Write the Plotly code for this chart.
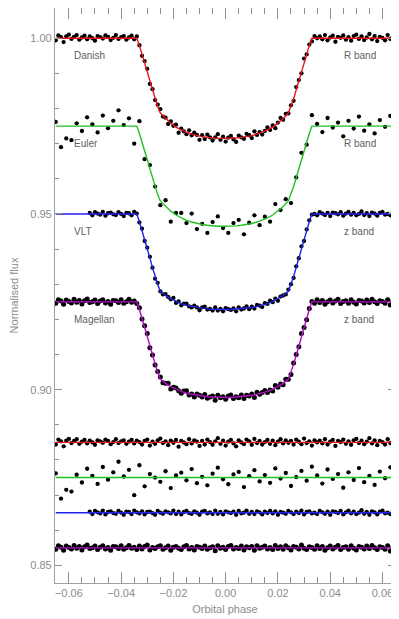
import plotly.graph_objects as go

# orbital phase of each exposure
phase_fine = [
    -0.065, -0.064, -0.063, -0.062, -0.061, -0.060, -0.059, -0.058, -0.057, -0.056,
    -0.055, -0.054, -0.053, -0.052, -0.051, -0.050, -0.049, -0.048, -0.047, -0.046,
    -0.045, -0.044, -0.043, -0.042, -0.041, -0.040, -0.039, -0.038, -0.037, -0.036,
    -0.035, -0.034, -0.033, -0.032, -0.031, -0.030, -0.029, -0.028, -0.027, -0.026,
    -0.025, -0.024, -0.023, -0.022, -0.021, -0.020, -0.019, -0.018, -0.017, -0.016,
    -0.015, -0.014, -0.013, -0.012, -0.011, -0.010, -0.009, -0.008, -0.007, -0.006,
    -0.005, -0.004, -0.003, -0.002, -0.001, 0.000, 0.001, 0.002, 0.003, 0.004,
    0.005, 0.006, 0.007, 0.008, 0.009, 0.010, 0.011, 0.012, 0.013, 0.014,
    0.015, 0.016, 0.017, 0.018, 0.019, 0.020, 0.021, 0.022, 0.023, 0.024,
    0.025, 0.026, 0.027, 0.028, 0.029, 0.030, 0.031, 0.032, 0.033, 0.034,
    0.035, 0.036, 0.037, 0.038, 0.039, 0.040, 0.041, 0.042, 0.043, 0.044,
    0.045, 0.046, 0.047, 0.048, 0.049, 0.050, 0.051, 0.052, 0.053, 0.054,
    0.055, 0.056, 0.057, 0.058, 0.059, 0.060, 0.061, 0.062, 0.063, 0.064,
    0.065,
]
phase_euler = [
    -0.065, -0.063, -0.061, -0.059, -0.057, -0.055, -0.053, -0.051, -0.049, -0.047,
    -0.045, -0.043, -0.041, -0.039, -0.037, -0.035, -0.033, -0.031, -0.029, -0.027,
    -0.025, -0.023, -0.021, -0.019, -0.017, -0.015, -0.013, -0.011, -0.009, -0.007,
    -0.005, -0.003, -0.001, 0.001, 0.003, 0.005, 0.007, 0.009, 0.011, 0.013,
    0.015, 0.017, 0.019, 0.021, 0.023, 0.025, 0.027, 0.029, 0.031, 0.033,
    0.035, 0.037, 0.039, 0.041, 0.043, 0.045, 0.047, 0.049, 0.051, 0.053,
    0.055, 0.057, 0.059, 0.061, 0.063, 0.065,
]
phase_vlt = [
    -0.052, -0.051, -0.050, -0.049, -0.048, -0.047, -0.046, -0.045, -0.044, -0.043,
    -0.042, -0.041, -0.040, -0.039, -0.038, -0.037, -0.036, -0.035, -0.034, -0.033,
    -0.032, -0.031, -0.030, -0.029, -0.028, -0.027, -0.026, -0.025, -0.024, -0.023,
    -0.022, -0.021, -0.020, -0.019, -0.018, -0.017, -0.016, -0.015, -0.014, -0.013,
    -0.012, -0.011, -0.010, -0.009, -0.008, -0.007, -0.006, -0.005, -0.004, -0.003,
    -0.002, -0.001, 0.000, 0.001, 0.002, 0.003, 0.004, 0.005, 0.006, 0.007,
    0.008, 0.009, 0.010, 0.011, 0.012, 0.013, 0.014, 0.015, 0.016, 0.017,
    0.018, 0.019, 0.020, 0.021, 0.022, 0.023, 0.024, 0.025, 0.026, 0.027,
    0.028, 0.029, 0.030, 0.031, 0.032, 0.033, 0.034, 0.035, 0.036, 0.037,
    0.038, 0.039, 0.040, 0.041, 0.042, 0.043, 0.044, 0.045, 0.046, 0.047,
    0.048, 0.049, 0.050, 0.051, 0.052, 0.053, 0.054, 0.055, 0.056, 0.057,
    0.058, 0.059, 0.060, 0.061, 0.062, 0.063, 0.064, 0.065,
]

# normalised flux
danish_flux = [
    0.9994, 1.0008, 1.0003, 0.9989, 1.0005, 1.0010, 0.9998, 1.0004, 1.0009, 0.9996,
    1.0002, 1.0007, 0.9997, 1.0005, 1.0000, 0.9993, 1.0006, 1.0003, 0.9999, 1.0008,
    1.0004, 0.9995, 1.0001, 1.0009, 0.9998, 1.0003, 1.0006, 0.9996, 1.0002, 1.0007,
    0.9997, 1.0005, 0.9980, 0.9950, 0.9935, 0.9913, 0.9870, 0.9855, 0.9824, 0.9811,
    0.9798, 0.9777, 0.9774, 0.9756, 0.9763, 0.9751, 0.9754, 0.9731, 0.9743, 0.9735,
    0.9727, 0.9738, 0.9724, 0.9731, 0.9725, 0.9711, 0.9724, 0.9713, 0.9726, 0.9718,
    0.9709, 0.9718, 0.9727, 0.9711, 0.9720, 0.9706, 0.9717, 0.9722, 0.9712, 0.9705,
    0.9723, 0.9718, 0.9714, 0.9728, 0.9724, 0.9716, 0.9735, 0.9725, 0.9733, 0.9726,
    0.9736, 0.9746, 0.9739, 0.9752, 0.9744, 0.9760, 0.9773, 0.9768, 0.9785, 0.9786,
    0.9809, 0.9822, 0.9861, 0.9881, 0.9900, 0.9942, 0.9954, 0.9982, 0.9991, 1.0006,
    1.0000, 1.0005, 0.9997, 1.0009, 0.9994, 1.0002, 1.0007, 0.9990, 1.0004, 1.0001,
    1.0008, 0.9996, 1.0003, 0.9993, 1.0006, 1.0010, 0.9998, 1.0005, 0.9995, 1.0002,
    1.0012, 0.9997, 1.0006, 0.9992, 1.0004, 1.0001, 0.9994, 1.0009, 0.9998, 1.0003,
    1.0005,
]
euler_flux = [
    1.0012, 0.9940, 0.9965, 0.9960, 1.0008, 0.9986, 1.0025, 1.0005, 0.9982, 1.0030,
    0.9994, 1.0015, 1.0045, 1.0003, 1.0022, 0.9950, 1.0014, 0.9906, 0.9889, 0.9828,
    0.9775, 0.9789, 0.9728, 0.9753, 0.9753, 0.9724, 0.9751, 0.9707, 0.9722, 0.9696,
    0.9727, 0.9743, 0.9710, 0.9696, 0.9724, 0.9733, 0.9692, 0.9725, 0.9746, 0.9718,
    0.9742, 0.9728, 0.9778, 0.9761, 0.9792, 0.9781, 0.9854, 0.9924, 0.9947, 1.0031,
    1.0006, 0.9983, 1.0023, 0.9996, 1.0010, 0.9971, 1.0015, 0.9993, 1.0027, 0.9987,
    1.0005, 0.9979, 1.0017, 0.9998, 1.0029, 0.9990,
]
vlt_flux = [
    1.0003, 0.9996, 1.0005, 1.0001, 0.9998, 1.0006, 0.9995, 1.0002, 1.0004, 0.9999,
    0.9997, 1.0005, 1.0000, 0.9994, 1.0003, 1.0002, 0.9996, 1.0006, 1.0001, 0.9976,
    0.9958, 0.9923, 0.9904, 0.9878, 0.9847, 0.9816, 0.9804, 0.9780, 0.9771, 0.9772,
    0.9764, 0.9757, 0.9761, 0.9747, 0.9751, 0.9740, 0.9745, 0.9745, 0.9737, 0.9734,
    0.9739, 0.9734, 0.9726, 0.9734, 0.9736, 0.9728, 0.9730, 0.9725, 0.9734, 0.9725,
    0.9730, 0.9723, 0.9732, 0.9729, 0.9727, 0.9731, 0.9723, 0.9734, 0.9728, 0.9731,
    0.9737, 0.9729, 0.9736, 0.9731, 0.9741, 0.9739, 0.9735, 0.9746, 0.9744, 0.9753,
    0.9749, 0.9759, 0.9753, 0.9765, 0.9768, 0.9771, 0.9785, 0.9800, 0.9818, 0.9851,
    0.9874, 0.9908, 0.9923, 0.9956, 0.9982, 0.9998, 1.0000, 0.9996, 1.0005, 1.0001,
    0.9997, 1.0003, 0.9994, 1.0004, 1.0002, 0.9999, 1.0005, 0.9995, 1.0001, 1.0006,
    0.9998, 1.0003, 0.9996, 1.0000, 1.0007, 0.9997, 1.0002, 0.9994, 1.0004, 1.0001,
    0.9995, 1.0003, 1.0006, 0.9998, 1.0000, 0.9996, 1.0005, 1.0002,
]
magellan_flux = [
    0.9996, 1.0006, 1.0002, 0.9993, 1.0005, 1.0001, 0.9997, 1.0007, 0.9999, 1.0004,
    0.9994, 1.0003, 1.0008, 0.9998, 1.0000, 1.0005, 0.9995, 1.0002, 1.0006, 0.9997,
    1.0001, 0.9993, 1.0004, 1.0003, 0.9998, 1.0006, 0.9996, 1.0000, 1.0007, 0.9999,
    1.0002, 0.9995, 0.9983, 0.9951, 0.9932, 0.9910, 0.9869, 0.9849, 0.9820, 0.9802,
    0.9786, 0.9770, 0.9768, 0.9768, 0.9752, 0.9757, 0.9755, 0.9747, 0.9740, 0.9746,
    0.9747, 0.9735, 0.9738, 0.9729, 0.9738, 0.9734, 0.9729, 0.9736, 0.9726, 0.9729,
    0.9732, 0.9720, 0.9734, 0.9727, 0.9730, 0.9723, 0.9732, 0.9735, 0.9725, 0.9730,
    0.9727, 0.9735, 0.9725, 0.9734, 0.9732, 0.9738, 0.9728, 0.9743, 0.9737, 0.9742,
    0.9748, 0.9742, 0.9749, 0.9746, 0.9762, 0.9757, 0.9766, 0.9764, 0.9780, 0.9780,
    0.9793, 0.9826, 0.9850, 0.9872, 0.9910, 0.9927, 0.9949, 0.9981, 1.0001, 0.9996,
    1.0006, 0.9998, 1.0004, 0.9993, 1.0000, 1.0005, 0.9997, 1.0002, 1.0007, 0.9995,
    1.0001, 1.0003, 0.9996, 1.0006, 0.9999, 0.9994, 1.0004, 1.0002, 0.9997, 1.0005,
    0.9998, 1.0007, 1.0000, 0.9995, 1.0003, 1.0001, 0.9996, 1.0006, 0.9991, 1.0002,
    1.0004,
]

# residuals from the fit, parts per thousand
danish_resid = [
    -0.6, 0.8, 0.3, -1.1, 0.5, 1.0, -0.2, 0.4, 0.9, -0.4,
    0.2, 0.7, -0.3, 0.5, 0.0, -0.7, 0.6, 0.3, -0.1, 0.8,
    0.4, -0.5, 0.1, 0.9, -0.2, 0.3, 0.6, -0.4, 0.2, 0.7,
    -0.3, 0.5, 0.1, -0.6, 0.4, 0.8, -0.9, 0.2, -0.4, 0.6,
    1.1, -0.2, 0.3, -0.8, 0.5, -0.1, 0.7, -1.2, 0.4, 0.0,
    -0.5, 0.9, -0.3, 0.6, 0.2, -1.0, 0.4, -0.6, 0.8, 0.1,
    -0.7, 0.3, 1.2, -0.4, 0.5, -0.9, 0.2, 0.7, -0.3, -1.1,
    0.6, 0.0, -0.5, 0.8, 0.3, -0.7, 1.0, -0.2, 0.4, -0.6,
    0.1, 0.7, -0.4, 0.5, -0.8, 0.2, 0.9, -0.3, 0.6, -0.1,
    0.4, -0.6, 0.8, 0.2, -0.5, 1.1, -0.2, 0.3, -0.9, 0.6,
    0.0, 0.5, -0.3, 0.9, -0.6, 0.2, 0.7, -1.0, 0.4, 0.1,
    0.8, -0.4, 0.3, -0.7, 0.6, 1.0, -0.2, 0.5, -0.5, 0.2,
    1.2, -0.3, 0.6, -0.8, 0.4, 0.1, -0.6, 0.9, -0.2, 0.3,
    0.5,
]
euler_resid = [
    1.2, -6.0, -3.5, -4.0, 0.8, -1.4, 2.5, 0.5, -1.8, 3.0,
    -0.6, 1.5, 4.5, 0.3, 2.2, -5.0, 3.5, -2.5, 1.0, 0.0,
    -1.2, 1.8, -3.0, 0.6, 1.4, -0.8, 2.4, -1.6, 0.2, -2.2,
    1.1, 2.8, -0.5, -1.9, 0.9, 1.6, -2.7, 0.4, 2.1, -1.1,
    0.7, -1.5, 2.6, -0.3, 1.3, -2.4, 0.1, 1.9, -0.9, 3.1,
    0.6, -1.7, 2.3, -0.4, 1.0, -2.9, 1.5, -0.7, 2.7, -1.3,
    0.5, -2.1, 1.7, -0.2, 2.9, -1.0,
]
vlt_resid = [
    0.3, -0.4, 0.5, 0.1, -0.2, 0.6, -0.5, 0.2, 0.4, -0.1,
    -0.3, 0.5, 0.0, -0.6, 0.3, 0.2, -0.4, 0.6, 0.1, -0.2,
    0.4, -0.5, 0.2, 0.3, -0.1, -0.6, 0.5, 0.0, -0.3, 0.4,
    0.1, -0.2, 0.6, -0.4, 0.3, -0.5, 0.2, 0.5, -0.1, -0.3,
    0.4, 0.0, -0.6, 0.3, 0.5, -0.2, 0.1, -0.4, 0.6, -0.3,
    0.2, -0.5, 0.4, 0.1, -0.1, 0.3, -0.6, 0.5, -0.2, 0.0,
    0.6, -0.3, 0.2, -0.4, 0.4, 0.1, -0.5, 0.3, -0.1, 0.5,
    -0.2, 0.4, -0.6, 0.2, 0.0, -0.3, 0.5, 0.1, -0.4, 0.3,
    -0.1, 0.6, -0.5, 0.2, 0.4, -0.2, 0.0, -0.4, 0.5, 0.1,
    -0.3, 0.3, -0.6, 0.4, 0.2, -0.1, 0.5, -0.5, 0.1, 0.6,
    -0.2, 0.3, -0.4, 0.0, 0.7, -0.3, 0.2, -0.6, 0.4, 0.1,
    -0.5, 0.3, 0.6, -0.2, 0.0, -0.4, 0.5, 0.2,
]
magellan_resid = [
    -0.4, 0.6, 0.2, -0.7, 0.5, 0.1, -0.3, 0.7, -0.1, 0.4,
    -0.6, 0.3, 0.8, -0.2, 0.0, 0.5, -0.5, 0.2, 0.6, -0.3,
    0.1, -0.7, 0.4, 0.3, -0.2, 0.6, -0.4, 0.0, 0.7, -0.1,
    0.2, -0.5, 0.5, -0.3, 0.4, 0.8, -0.6, 0.1, -0.2, 0.3,
    0.6, -0.4, 0.0, 0.5, -0.7, 0.2, 0.4, -0.1, -0.5, 0.3,
    0.7, -0.3, 0.1, -0.6, 0.4, 0.2, -0.2, 0.5, -0.4, 0.0,
    0.3, -0.8, 0.6, -0.1, 0.2, -0.5, 0.4, 0.7, -0.3, 0.1,
    -0.2, 0.5, -0.6, 0.3, 0.0, 0.4, -0.7, 0.6, -0.1, 0.2,
    0.5, -0.3, 0.1, -0.5, 0.7, -0.2, 0.3, -0.4, 0.6, 0.0,
    -0.6, 0.4, 0.2, -0.3, 0.8, -0.1, -0.5, 0.3, 0.1, -0.4,
    0.6, -0.2, 0.4, -0.7, 0.0, 0.5, -0.3, 0.2, 0.7, -0.5,
    0.1, 0.3, -0.4, 0.6, -0.1, -0.6, 0.4, 0.2, -0.3, 0.5,
    -0.2, 0.7, 0.0, -0.5, 0.3, 0.1, -0.4, 0.6, -0.9, 0.2,
    0.4,
]

# best-fitting light curve models
model_phase = [
    -0.065, -0.034, -0.033, -0.032, -0.031, -0.030, -0.029, -0.028, -0.027, -0.026,
    -0.025, -0.023, -0.021, -0.019, -0.017, -0.015, -0.013, -0.011, -0.009, -0.007,
    -0.005, -0.003, -0.0005, 0.002, 0.004, 0.006, 0.008, 0.010, 0.012, 0.014,
    0.016, 0.018, 0.020, 0.022, 0.024, 0.025, 0.026, 0.027, 0.028, 0.029,
    0.030, 0.031, 0.032, 0.033, 0.065,
]
model_R = [
    1.0, 1.0, 0.9979, 0.9956, 0.9931, 0.9905, 0.9879, 0.9853, 0.9828, 0.9805,
    0.9787, 0.9771, 0.9758, 0.9747, 0.9739, 0.9732, 0.9727, 0.9723, 0.9720, 0.9718,
    0.9716, 0.9715, 0.9715, 0.9715, 0.9716, 0.9718, 0.9720, 0.9723, 0.9727, 0.9732,
    0.9739, 0.9747, 0.9758, 0.9771, 0.9787, 0.9805, 0.9828, 0.9853, 0.9879, 0.9905,
    0.9931, 0.9956, 0.9979, 1.0, 1.0,
]
model_z = [
    1.0, 1.0, 0.9978, 0.9954, 0.9928, 0.9902, 0.9875, 0.9848, 0.9822, 0.9799,
    0.9780, 0.9768, 0.9759, 0.9751, 0.9745, 0.9740, 0.9737, 0.9734, 0.9731, 0.9730,
    0.9729, 0.9728, 0.9728, 0.9728, 0.9729, 0.9730, 0.9731, 0.9734, 0.9737, 0.9740,
    0.9745, 0.9751, 0.9759, 0.9768, 0.9780, 0.9799, 0.9822, 0.9848, 0.9875, 0.9902,
    0.9928, 0.9954, 0.9978, 1.0, 1.0,
]

telescopes = ["Danish", "Euler", "VLT", "Magellan"]
bands = ["R band", "R band", "z band", "z band"]

grey = "#8c8c8c"
# (phase, flux, residuals, model, colour, display offset, residual level, dot size)
sets = [
    (phase_fine, danish_flux, danish_resid, model_R, "#e8141c", 0.0, 0.885, 4.3),
    (phase_euler, euler_flux, euler_resid, model_R, "#22c022", -0.025, 0.875, 4.3),
    (phase_vlt, vlt_flux, vlt_resid, model_z, "#2222ee", -0.05, 0.865, 4.3),
    (phase_fine, magellan_flux, magellan_resid, model_z, "#b40cc8", -0.075, 0.855, 5),
]

fig = go.Figure()

for ph, fl, res, model, col, off, rlev, sz in sets:
    fig.add_trace(go.Scatter(x=ph, y=[f + off for f in fl], mode="markers",
                             marker=dict(color="black", size=sz)))
    fig.add_trace(go.Scatter(x=ph, y=[rlev + r / 1000 for r in res], mode="markers",
                             marker=dict(color="black", size=sz)))

for ph, fl, res, model, col, off, rlev, sz in sets:
    fig.add_trace(go.Scatter(x=model_phase, y=[m + off for m in model], mode="lines",
                             line=dict(color=col, width=1.4)))
    fig.add_trace(go.Scatter(x=[model_phase[0], model_phase[-1]], y=[rlev, rlev],
                             mode="lines", line=dict(color=col, width=1.4)))

for name, band, s in zip(telescopes, bands, sets):
    off = s[5]
    fig.add_annotation(x=-0.0588, y=0.995 + off, text=name, showarrow=False,
                       xanchor="left", font=dict(size=10, color="#606060"))
    fig.add_annotation(x=0.0445, y=0.995 + off, text=band, showarrow=False,
                       xanchor="left", font=dict(size=10, color="#606060"))

axis_common = dict(showgrid=False, zeroline=False, showline=True, linecolor="#a0a0a0",
                   linewidth=1.2, mirror="allticks", ticks="inside", tickcolor="#909090",
                   tickfont=dict(size=11, color=grey), automargin=False)

fig.update_xaxes(range=[-0.0653, 0.0648], dtick=0.02, tick0=0, tickformat=".2f", ticklen=11,
                 minor=dict(dtick=0.005, tick0=0, ticks="inside", ticklen=6, tickcolor="#909090"),
                 title=dict(text="Orbital phase", font=dict(size=11, color=grey), standoff=7),
                 **axis_common)
fig.update_yaxes(range=[0.845, 1.0086], dtick=0.05, tick0=0.85, tickformat=".2f", ticklen=7,
                 minor=dict(dtick=0.01, tick0=0.85, ticks="inside", ticklen=4, tickcolor="#909090"),
                 title=dict(text="Normalised flux", font=dict(size=11, color=grey), standoff=11),
                 **axis_common)

# the page adds an 8 px body margin, so the figure is 8 px smaller than the window
fig.update_layout(width=391, height=611, margin=dict(l=47, r=4, t=0, b=36),
                  plot_bgcolor="white", paper_bgcolor="white", showlegend=False,
                  font=dict(family="Liberation Sans", color=grey))

fig.write_html("out.html")
